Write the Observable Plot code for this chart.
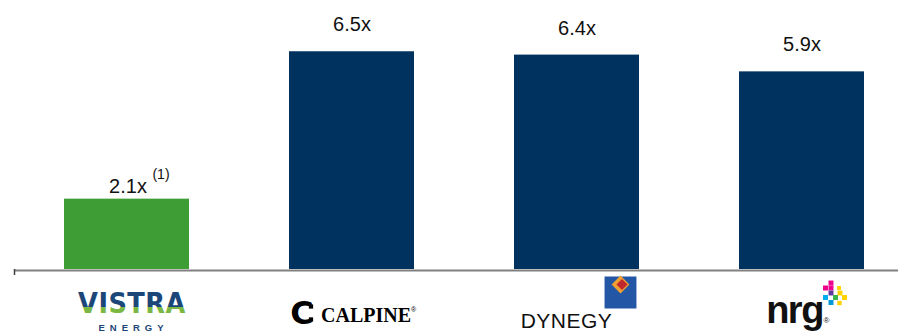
<!DOCTYPE html>
<html><head><meta charset="utf-8">
<script src="https://cdn.jsdelivr.net/npm/d3@7"></script>
<script src="https://cdn.jsdelivr.net/npm/@observablehq/plot@0.6"></script>
<style>
html,body{margin:0;padding:0;background:#fff;}
#chart{width:898px;height:332px;overflow:hidden}
</style></head><body><div id="chart"></div>
<script>
// ---- data ----
const companies = ["Vistra", "Calpine", "Dynegy", "NRG"];
const multiples = [2.1, 6.5, 6.4, 5.9];
const valueLabels = ["2.1x", "6.5x", "6.4x", "5.9x"];
const footnotes = ["(1)", "", "", ""];
const brandNames = ["VISTRA", "CALPINE", "DYNEGY", "nrg"];

const data = companies.map((c, i) => ({company: c, value: multiples[i], label: valueLabels[i], note: footnotes[i], brand: brandNames[i]}));

const GREEN = "#3e9e35", NAVY = "#00325f";
const one = (company) => data.filter(d => d.company === company);

// helper marks for logos (decorations, positioned relative to band centre & baseline)
const logoText = (company, text, o) => Plot.text(one(company), {x: "company", y: () => 0, text: () => text, ...o});
const logoSq = (company, o) => Plot.dot(one(company), {x: "company", y: () => 0, symbol: "square", stroke: null, ...o});
const logoDia = (company, o) => Plot.dot(one(company), {x: "company", y: () => 0, symbol: "diamond2", stroke: null, ...o});

const chart = Plot.plot({
  width: 898, height: 332,
  marginTop: 0, marginBottom: 63, marginLeft: 14, marginRight: -16,
  x: {domain: companies, paddingInner: 4/9, paddingOuter: 2/9, axis: null},
  y: {domain: [0, 8.03], axis: null},
  style: {fontFamily: "'Liberation Sans', Arial, sans-serif", background: "#fff", overflow: "hidden"},
  marks: [
    Plot.barY(data, {x: "company", y: "value", fill: d => d.company === "Vistra" ? GREEN : NAVY}),
    Plot.ruleY([0], {stroke: "#808080", strokeWidth: 2, dy: 1}),
    Plot.ruleX(one("Vistra"), {x: "company", y1: () => 0, y2: () => 0, dx: -112.5, insetBottom: -6, stroke: "#404040", strokeWidth: 1.5}),
    // value labels
    Plot.text(data.filter(d => d.company !== "Vistra"), {x: "company", y: "value", text: "label", dy: -27, fontSize: 20, fill: "#111"}),
    Plot.text(one("Vistra"), {x: "company", y: "value", text: "label", dy: -12.5, dx: 1, fontSize: 20, fill: "#111"}),
    Plot.text(one("Vistra"), {x: "company", y: "value", text: "note", dy: -25, dx: 34, fontSize: 14, fill: "#111"}),
    // Vistra logo
    logoText("Vistra", "VISTRA", {dx: 5, dy: 34.5, fontSize: 28.5, fontWeight: "bold", fill: "url(#vistraGrad)", fontFamily: "'DejaVu Sans', 'Liberation Sans', sans-serif"}),
    logoText("Vistra", "ENERGY", {dx: 6.5, dy: 58, fontSize: 9.5, fill: "#1c4678", fontWeight: "bold"}),
    // Calpine logo
    logoText("Calpine", "C", {dx: -50, dy: 44, fontSize: 32, fontWeight: "bold", fill: "#000", fontFamily: "'DejaVu Sans', sans-serif"}),
    logoSq("Calpine", {dx: -41, dy: 37, r: 2.4, fill: "#000"}),
    logoSq("Calpine", {dx: -41, dy: 50, r: 2.4, fill: "#000"}),
    logoText("Calpine", "CALPINE", {dx: 14, dy: 46, fontSize: 20, fontWeight: "bold", fill: "#000", fontFamily: "'Liberation Serif', 'Times New Roman', serif"}),
    logoText("Calpine", "®", {dx: 61.5, dy: 40, fontSize: 7, fill: "#000"}),
    // Dynegy logo
    logoSq("Dynegy", {dx: 43.5, dy: 23, r: 18, fill: "#2456a6"}),
    logoDia("Dynegy", {dx: 43.5, dy: 15, r: 8, fill: "#f0a030"}),
    logoDia("Dynegy", {dx: 45, dy: 15, r: 5, fill: "#c0282d"}),
    logoText("Dynegy", "DYNEGY", {dx: -10.5, dy: 52, fontSize: 21, fill: "#111"}),
    // NRG logo
    logoText("NRG", "nrg", {dx: -7.5, dy: 41, fontSize: 38, fontWeight: "bold", fill: "#111"}),
    logoText("NRG", "®", {dx: 24.5, dy: 51, fontSize: 8, fill: "#111"}),
    logoSq("NRG", {dx: 29, dy: 13.5, r: 2.8, fill: "#ec008c"}),
    logoSq("NRG", {dx: 23.5, dy: 18.5, r: 2.8, fill: "#ec008c"}),
    logoSq("NRG", {dx: 29, dy: 18.5, r: 2.8, fill: "#ec008c"}),
    logoSq("NRG", {dx: 29, dy: 23.5, r: 2.8, fill: "#5b3c9c"}),
    logoSq("NRG", {dx: 37, dy: 18.5, r: 2.2, fill: "#ffd200"}),
    logoSq("NRG", {dx: 38, dy: 23.5, r: 2.8, fill: "#ffd200"}),
    logoSq("NRG", {dx: 23.5, dy: 28, r: 2.8, fill: "#00aeef"}),
    logoSq("NRG", {dx: 33.5, dy: 28, r: 2.8, fill: "#39b54a"}),
    logoSq("NRG", {dx: 42.5, dy: 28, r: 2.8, fill: "#ffd200"}),
    logoSq("NRG", {dx: 29, dy: 33, r: 2.8, fill: "#0096d6"}),
    logoSq("NRG", {dx: 37.5, dy: 33.5, r: 2.5, fill: "#ffd200"})
  ]
});

const svg = d3.select(chart);
// gradient for the Vistra wordmark (navy top, green swoosh bottom)
const g = svg.insert("defs", ":first-child").append("linearGradient")
  .attr("id", "vistraGrad").attr("x1", 0).attr("y1", 0).attr("x2", 0).attr("y2", 1);
g.append("stop").attr("offset", 0).attr("stop-color", "#1c4678");
g.append("stop").attr("offset", 0.6).attr("stop-color", "#1c4678");
g.append("stop").attr("offset", 0.6).attr("stop-color", "#7ab743");
g.append("stop").attr("offset", 1).attr("stop-color", "#7ab743");

// typographic tweaks Plot's text mark has no option for
const byText = (s) => svg.selectAll("text").filter(function () { return this.textContent === s; });
byText("ENERGY").attr("letter-spacing", 5);
byText("VISTRA").attr("font-stretch", "condensed").attr("letter-spacing", 0.5);
byText("nrg").attr("letter-spacing", -1.5);
byText("DYNEGY").attr("letter-spacing", 0.5);

document.getElementById("chart").appendChild(chart);
</script>
</body></html>
